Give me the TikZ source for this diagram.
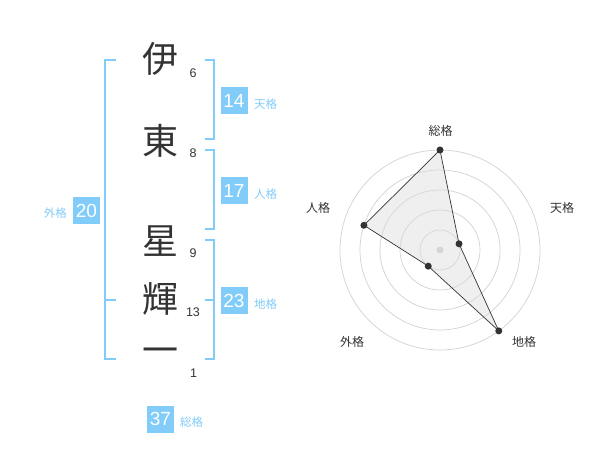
\documentclass[tikz,border=0pt]{standalone}
\usepackage{fontspec}
\setmainfont{Noto Sans CJK JP}
\newfontfamily\digitfont{Liberation Sans}
\definecolor{nblue}{RGB}{130,204,250}
\definecolor{ntext}{RGB}{51,51,51}
\definecolor{ring}{RGB}{210,210,210}
\begin{document}
\begin{tikzpicture}[x=1pt,y=-1pt,
  kanji/.style={text=ntext,font=\fontsize{36}{36}\selectfont,inner sep=0pt},
  stroke/.style={text=ntext,font=\digitfont\fontsize{12.5}{12.5}\selectfont,inner sep=0pt},
  valbox/.style={fill=nblue,text=white,minimum width=27pt,minimum height=27pt,inner sep=0pt,font=\digitfont\fontsize{19}{19}\selectfont},
  kaku/.style={text=nblue,font=\fontsize{11.5}{11.5}\selectfont,inner sep=0pt},
  bracket/.style={draw=nblue,line width=2pt},
  rlabel/.style={text=ntext,font=\fontsize{12}{12}\selectfont,inner sep=0pt},
  ringline/.style={draw=ring,line width=0.7pt},
  pt/.style={circle,fill=ntext,inner sep=0pt,minimum size=7pt}]
\useasboundingbox (0,0) rectangle (600,470);
\fill[white] (0,0) rectangle (600,470);
% characters
\node[kanji] (c1) at (160.5,59) {伊};
\node[kanji] (c2) at (160.5,141) {東};
\node[kanji] (c3) at (160.5,241) {星};
\node[kanji] (c4) at (160.5,299) {輝};
\node[kanji] (c5) at (160.5,356) {一};
\node[stroke] (s1) at (193,73) {6};
\node[stroke] (s2) at (193,153) {8};
\node[stroke] (s3) at (193,253) {9};
\node[stroke] (s4) at (193,312.5) {13};
\node[stroke] (s5) at (193.5,373) {1};
% brackets
\draw[bracket] (116,60) -- (105,60) -- (105,359) -- (116,359);
\draw[bracket] (105,300) -- (116,300);
\draw[bracket] (205,60) -- (214,60) -- (214,139) -- (205,139);
\draw[bracket] (205,150) -- (214,150) -- (214,229) -- (205,229);
\draw[bracket] (205,240) -- (214,240) -- (214,359) -- (205,359);
\draw[bracket] (205,300) -- (214,300);
% values
\node[valbox] (v1) at (234,100.5) {14};
\node[kaku, anchor=west] (k1) at (254,104) {天格};
\node[valbox] (v2) at (234,190.5) {17};
\node[kaku, anchor=west] (k2) at (254,194) {人格};
\node[valbox] (v3) at (86.5,210.5) {20};
\node[kaku, anchor=east] (k3) at (67,213.5) {外格};
\node[valbox] (v4) at (234,300.5) {23};
\node[kaku, anchor=west] (k4) at (254,304) {地格};
\node[valbox] (v5) at (160.5,419) {37};
\node[kaku, anchor=west] (k5) at (180,422.5) {総格};
% radar
\begin{scope}[shift={(440,250)},yscale=-1]
  \foreach \r in {20,40,60,80,100} \draw[ringline] (0,0) circle (\r);
  \fill[ring] (0,0) circle (3.5);
  \coordinate (p1) at (90:100);
  \coordinate (p2) at (18:20);
  \coordinate (p3) at (-54:100);
  \coordinate (p4) at (234:20);
  \coordinate (p5) at (162:80);
  \filldraw[fill=black!15,fill opacity=0.4,draw=ntext,line width=0.7pt] (p1) -- (p2) -- (p3) -- (p4) -- (p5) -- cycle;
  \foreach \p in {p1,p2,p3,p4,p5} \node[pt] at (\p) {};
  \node[rlabel] (l1) at (0.5,119.5) {総格};
  \node[rlabel] (l2) at (122,42) {天格};
  \node[rlabel] (l3) at (-122,42) {人格};
  \node[rlabel] (l4) at (-88,-92) {外格};
  \node[rlabel] (l5) at (84,-92) {地格};
\end{scope}
\end{tikzpicture}
\end{document}
